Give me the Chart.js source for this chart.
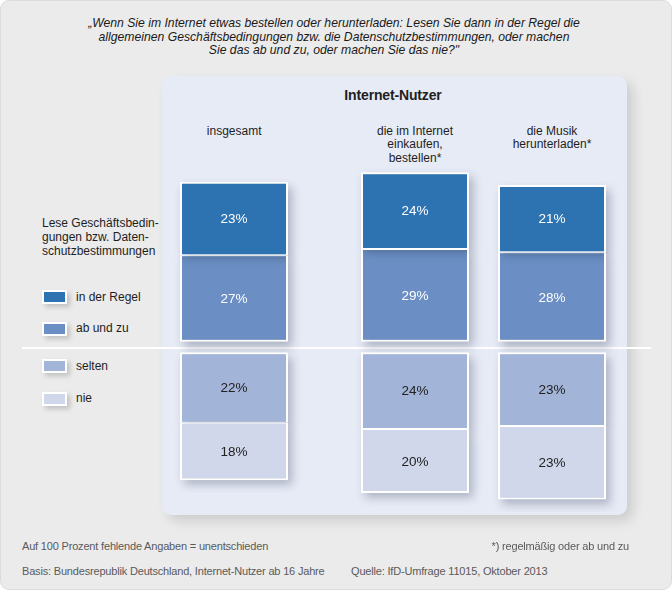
<!DOCTYPE html>
<html>
<head>
<meta charset="utf-8">
<script src="https://cdn.jsdelivr.net/npm/chart.js@4.4.0/dist/chart.umd.min.js"></script>
<style>
  html, body { margin:0; padding:0; background:#ffffff; }
  body { width:672px; height:591px; position:relative; overflow:hidden;
         font-family:"Liberation Sans", Arial, sans-serif; color:#1e1e1e; }
  #frame { position:absolute; left:0; top:0; width:670px; height:588px; background:#ebebeb;
           border:1px solid #dcdcdc; border-radius:9px; }
  .abs { position:absolute; white-space:nowrap; }
  #title { left:0; width:668px; top:17.4px; text-align:center; font-style:italic; font-size:12.2px;
           line-height:13.4px; letter-spacing:0px; color:#1a1a1a; }
  #panel { position:absolute; left:162px; top:76px; width:465px; height:439px; background:#e7ebf6;
           border-radius:9px; box-shadow:6px 6px 12px rgba(0,0,0,0.13); }
  #panelTitle { font-weight:bold; font-size:14px; left:293px; width:200px; text-align:center; top:87px; letter-spacing:-0.15px; }
  .hdr { font-size:12px; line-height:13.5px; text-align:center; width:160px; top:124.5px; }
  #leftLabel { left:42px; top:215.5px; font-size:12px; line-height:14px; }
  .sw { position:absolute; width:21px; height:10px; border:2px solid #fff; box-shadow:3px 3px 5px rgba(0,0,0,0.18); }
  .lg { font-size:12px; line-height:14px; }
  #baseline { position:absolute; left:22px; top:346.7px; width:629px; height:2px; background:#ffffff; }
  .foot { font-size:11px; color:#5a5a5a; letter-spacing:-0.18px; line-height:13px; }
  .chartBox { position:absolute; top:160px; width:150px; height:352px; }
</style>
</head>
<body>
<div id="frame"></div>
<div id="title" class="abs">„Wenn Sie im Internet etwas bestellen oder herunterladen: Lesen Sie dann in der Regel die<br>allgemeinen Geschäftsbedingungen bzw. die Datenschutzbestimmungen, oder machen<br>Sie das ab und zu, oder machen Sie das nie?"</div>
<div id="panel"></div>
<div id="panelTitle" class="abs">Internet-Nutzer</div>
<div id="headers"></div>
<div id="leftLabel" class="abs">Lese Geschäftsbedin-<br>gungen bzw. Daten-<br>schutzbestimmungen</div>
<div id="legend"></div>
<div id="baseline"></div>
<div id="charts"></div>
<div class="abs foot" style="left:22px; top:539.5px;">Auf 100 Prozent fehlende Angaben = unentschieden</div>
<div class="abs foot" style="right:43px; top:539.5px;">*) regelmäßig oder ab und zu</div>
<div class="abs foot" style="left:22px; top:564.5px;">Basis: Bundesrepublik Deutschland, Internet-Nutzer ab 16 Jahre</div>
<div class="abs foot" style="left:351px; top:564.5px;">Quelle: IfD-Umfrage 11015, Oktober 2013</div>

<script>
// ---- data ----
const categories = [
  ["insgesamt"],
  ["die im Internet", "einkaufen,", "bestellen*"],
  ["die Musik", "herunterladen*"]
];
const seriesNames = ["in der Regel", "ab und zu", "selten", "nie"];
const inDerRegel = [23, 24, 21];
const abUndZu   = [27, 29, 28];
const selten    = [22, 24, 23];
const nie       = [18, 20, 23];

// ---- styles / layout (not data) ----
const colors = {
  "in der Regel": "#2e73b1",
  "ab und zu":    "#6b8fc4",
  "selten":       "#a2b4d8",
  "nie":          "#d0d7eb"
};
const labelColors = { "in der Regel":"#ffffff", "ab und zu":"#ffffff", "selten":"#222222", "nie":"#222222" };
const columnLeft = [159.2, 340, 477];          // canvas left positions (px)
const legendTops = [290, 321.7, 359.3, 391.7];  // swatch tops (px)

// headers
const hdrDiv = document.getElementById('headers');
categories.forEach((lines, i) => {
  const d = document.createElement('div');
  d.className = 'abs hdr';
  d.style.left = (columnLeft[i] + 75 - 80) + 'px';
  d.innerHTML = lines.join('<br>');
  hdrDiv.appendChild(d);
});

// legend
const lgDiv = document.getElementById('legend');
seriesNames.forEach((name, i) => {
  const s = document.createElement('div');
  s.className = 'sw';
  s.style.left = '42px';
  s.style.top = legendTops[i] + 'px';
  s.style.background = colors[name];
  lgDiv.appendChild(s);
  const t = document.createElement('div');
  t.className = 'abs lg';
  t.style.left = '76px';
  t.style.top = (legendTops[i] - 0.5) + 'px';
  t.textContent = name;
  lgDiv.appendChild(t);
});

function rectOf(el) {
  const p = el.getProps(['x','y','base','width'], true);
  return { x: p.x - p.width/2, y: Math.min(p.y, p.base), w: p.width, h: Math.abs(p.base - p.y) };
}
function shadowRect(chart, r, opts, clip) {
  const ctx = chart.ctx, dpr = chart.currentDevicePixelRatio || 1;
  ctx.save();
  if (clip) { ctx.beginPath(); ctx.rect(clip.x, clip.y, clip.w, clip.h); ctx.clip(); }
  const off = 3000;
  ctx.shadowColor = opts.color;
  ctx.shadowBlur = opts.blur * dpr;
  ctx.shadowOffsetX = (opts.dx + off) * dpr;
  ctx.shadowOffsetY = opts.dy * dpr;
  ctx.fillStyle = '#000';
  ctx.fillRect(r.x - off, r.y, r.w, r.h);
  ctx.restore();
}
const shadowOpts = { color: 'rgba(40,50,80,0.30)', blur: 9, dx: 4, dy: 5 };

const barShadowPlugin = {
  id: 'barShadow',
  beforeDatasetsDraw(chart) {
    chart.data.datasets.forEach((ds, d) => {
      chart.getDatasetMeta(d).data.forEach(el => shadowRect(chart, rectOf(el), shadowOpts));
    });
  },
  afterDatasetsDraw(chart) {
    // shadow of "in der Regel" falling onto "ab und zu"
    const top = chart.getDatasetMeta(1).data[0];
    const below = chart.getDatasetMeta(0).data[0];
    if (top && below) {
      const rb = rectOf(below);
      const clip = { x: rb.x + 2, y: rb.y + 1, w: rb.w - 4, h: rb.h - 3 };
      shadowRect(chart, rectOf(top), { color: 'rgba(30,40,70,0.35)', blur: 9, dx: 3, dy: 3 }, clip);
    }
    // value labels
    const ctx = chart.ctx;
    ctx.save();
    ctx.font = '13.5px "Liberation Sans", Arial, sans-serif';
    ctx.textAlign = 'center';
    ctx.textBaseline = 'middle';
    chart.data.datasets.forEach((ds, d) => {
      chart.getDatasetMeta(d).data.forEach((el, j) => {
        const r = rectOf(el);
        ctx.fillStyle = labelColors[ds.label];
        ctx.fillText(Math.abs(ds.data[j]) + '%', r.x + r.w/2, r.y + r.h/2 + 1);
      });
    });
    ctx.restore();
  }
};

const chartsDiv = document.getElementById('charts');
categories.forEach((lines, i) => {
  const box = document.createElement('div');
  box.className = 'chartBox';
  box.style.left = columnLeft[i] + 'px';
  const cv = document.createElement('canvas');
  box.appendChild(cv);
  chartsDiv.appendChild(box);

  const mk = (name, value, axis, bw) => ({
    label: name,
    data: [value],
    yAxisID: axis,
    backgroundColor: colors[name],
    borderColor: '#ffffff',
    borderWidth: bw,
    borderSkipped: false,
    barThickness: 108,
    inflateAmount: 0
  });

  new Chart(cv, {
    type: 'bar',
    data: {
      labels: [lines.join(' ')],
      datasets: [
        mk("ab und zu",    abUndZu[i],    'yUp',   {top:1, bottom:2, left:2, right:2}),
        mk("in der Regel", inDerRegel[i], 'yUp',   {top:2, bottom:1, left:2, right:2}),
        mk("selten",       -selten[i],    'yDown', {top:2, bottom:1, left:2, right:2}),
        mk("nie",          -nie[i],       'yDown', {top:1, bottom:2, left:2, right:2})
      ]
    },
    options: {
      responsive: true,
      maintainAspectRatio: false,
      animation: false,
      layout: { padding: 0 },
      plugins: { legend: { display: false }, tooltip: { enabled: false } },
      scales: {
        x: { display: false, stacked: true },
        yUp:   { display: false, stacked: true, min: -53.2, max: 56.8 },
        yDown: { display: false, stacked: true, min: -49.9, max: 60.1 }
      }
    },
    plugins: [barShadowPlugin]
  });
});
</script>
</body>
</html>
